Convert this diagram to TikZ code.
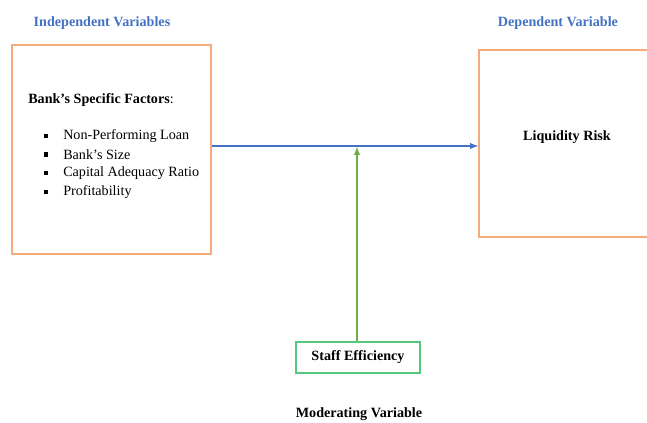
\documentclass[tikz,border=0pt]{standalone}
\usepackage{fontspec}
\setmainfont{Liberation Serif}
\definecolor{myorange}{RGB}{247,170,124}
\definecolor{myblue}{RGB}{68,114,196}
\definecolor{mygreen}{RGB}{112,173,71}
\definecolor{mymint}{RGB}{84,200,124}
\usetikzlibrary{arrows,positioning}
\tikzset{>=latex}

\begin{document}
\begin{tikzpicture}[x=0.75pt, y=-0.75pt, font=\fontsize{10.6}{12}\selectfont,
  box/.style = {draw=myorange, line width=1pt, inner sep=0pt},
  title/.style = {text=myblue, font=\fontsize{10.6}{12}\selectfont\bfseries},
  heading/.style = {font=\fontsize{10.6}{12}\selectfont\bfseries}]
  \useasboundingbox (0,0) rectangle (647,422);
  \clip (0,0) rectangle (647,422);
  % titles
  \node[title] (indeptitle) at (102,23) {Independent Variables};
  \node[title] (deptitle) at (558,23) {Dependent Variable};
  \node[heading] (modtitle) at (359,414) {Moderating Variable};
  % boxes
  \node[box, minimum width=149.25pt, minimum height=156.75pt] (indep) at (111.5,149.5) {};
  \node[box, minimum width=135.75pt, minimum height=140.25pt] (dep) at (569.5,143.5) {};
  \node[draw=mymint, line width=0.8pt, minimum width=93pt, minimum height=23.25pt, heading] (staff) at (358,357.5) {Staff Efficiency};
  \node[heading] (risk) at (567,137) {Liquidity Risk};
  \node[anchor=west, inner sep=0pt] (factors) at (28,100) {\textbf{Bank’s Specific Factors}:};
  \foreach \t [count=\i] in {Non-Performing Loan, Bank’s Size, Capital Adequacy Ratio, Profitability}
  {%
    \node[inner sep=0pt] (dot\i) at (46,117+18.7*\i) {\rule{3.2pt}{3.2pt}};
    \node[anchor=west, inner sep=0pt] (item\i) at (63,117+18.7*\i) {\t};
  };
  % connectors
  \coordinate (join) at (357,146);
  \draw[->, myblue, line width=1.1pt] (indep.east |- join) -- (dep.west |- join);
  \draw[->, mygreen, line width=1.1pt] (staff.north -| join) -- ([yshift=-0.5pt]join);
\end{tikzpicture}
\end{document}
